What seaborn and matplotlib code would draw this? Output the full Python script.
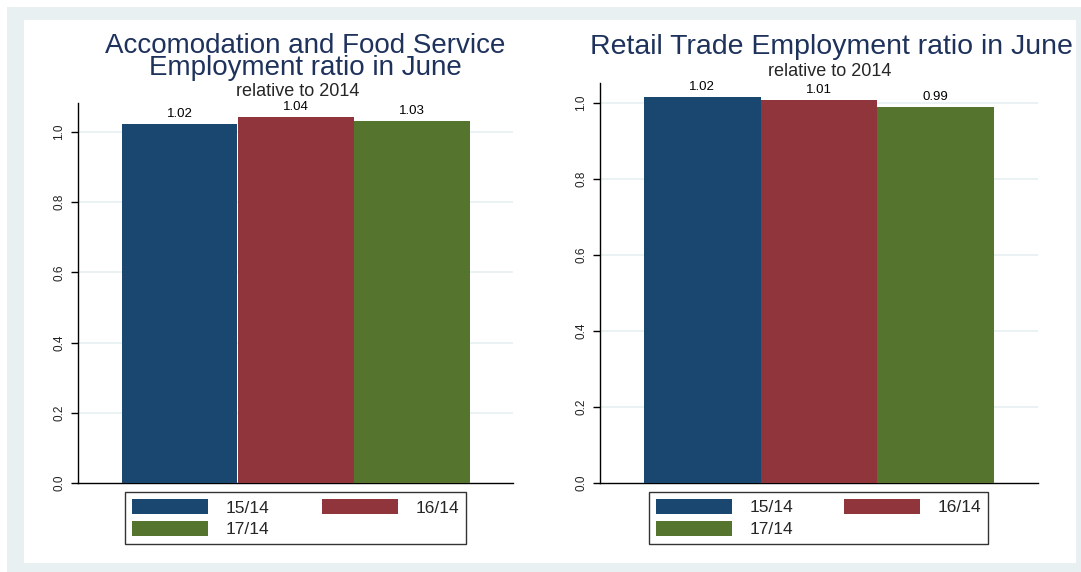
import pandas as pd
import seaborn as sns
from matplotlib import pyplot as plt
from matplotlib.patches import Rectangle

# values (ratio of June employment relative to 2014)
categories = ["15/14", "16/14", "17/14"]
accom_values = [1.024, 1.042, 1.032]
retail_values = [1.016, 1.008, 0.989]
colors = ["#1A476F", "#90353B", "#55752F"]
yticks = [0.0, 0.2, 0.4, 0.6, 0.8, 1.0]

sns.set_style("white")
plt.rcParams["font.family"] = ["Liberation Sans", "DejaVu Sans"]

fig = plt.figure(figsize=(10.81, 5.72), dpi=100)
fig.patch.set_facecolor("white")
# stata style frame: light bluish band around a white plot region
fig.patches.append(Rectangle((7 / 1081, 0), 1 - 7 / 1081, 565 / 572, transform=fig.transFigure,
                             facecolor="#E8F0F2", edgecolor="none", zorder=-2))
fig.patches.append(Rectangle((24 / 1081, 9 / 572), 1052 / 1081, 543 / 572, transform=fig.transFigure,
                             facecolor="white", edgecolor="none", zorder=-1))

ax1 = fig.add_axes([78 / 1081, 89 / 572, 435 / 1081, 380 / 572])
ax2 = fig.add_axes([600 / 1081, 89 / 572, 438 / 1081, 400 / 572])

panels = [
    (ax1, accom_values, 1.083, (0.108, 0.784), 0.024),
    (ax2, retail_values, 1.053, (0.112, 0.774), 0.0225),
]

for ax, vals, ytop, (lx, lw), gap in panels:
    df = pd.DataFrame({"month": ["June"] * 3, "period": categories, "ratio": vals})
    sns.barplot(data=df, x="month", y="ratio", hue="period", palette=colors,
                saturation=1, width=0.8, linewidth=0, edgecolor="none", ax=ax, zorder=3)
    for c in ax.containers:
        ax.bar_label(c, fmt="%.2f", padding=3, fontsize=9.5, color="black")
    ax.set_xlim(-0.5, 0.5)
    ax.set_ylim(0, ytop)
    ax.set_yticks(yticks)
    ax.set_yticklabels([f"{t:.1f}" for t in yticks], rotation=90, va="center", fontsize=8.5)
    ax.tick_params(axis="y", left=True, length=5, width=1, pad=4, color="black", labelcolor="#222222")
    ax.set_xticks([])
    ax.set_xlabel("")
    ax.set_ylabel("")
    for t in yticks[1:]:
        ax.axhline(t, color="#E8F0F2", lw=1.2, zorder=1)
    sns.despine(ax=ax)
    for side in ["left", "bottom"]:
        ax.spines[side].set_color("black")
        ax.spines[side].set_linewidth(1)
    # row-wise order: 15/14 16/14 / 17/14
    h, l = ax.get_legend_handles_labels()
    order = [0, 2, 1]
    h = [h[i] for i in order]
    l = [l[i] for i in order]
    leg_h = 0.13
    ax.legend(h, l, loc="upper left", bbox_to_anchor=(lx, -gap - leg_h, lw, leg_h), mode="expand",
              ncol=2, fontsize=12.5, frameon=True, fancybox=False, edgecolor="black",
              handlelength=4.4, handleheight=0.95, handletextpad=1.0, borderpad=0.4,
              labelspacing=0.3, borderaxespad=0)
    ax.get_legend().get_frame().set_linewidth(1)

title_color = "#1E325C"
fig.text(305 / 1081, 1 - 57 / 572, "Accomodation and Food Service\nEmployment ratio in June",
         ha="center", va="center", fontsize=20, color=title_color, linespacing=0.78)
fig.text(298 / 1081, 1 - 91 / 572, "relative to 2014", ha="center", va="center", fontsize=13)
fig.text(831 / 1081, 1 - 47 / 572, "Retail Trade Employment ratio in June", ha="center", va="center",
         fontsize=20.5, color=title_color)
fig.text(830 / 1081, 1 - 72 / 572, "relative to 2014", ha="center", va="center", fontsize=13)

plt.savefig("out.png", dpi=100)
